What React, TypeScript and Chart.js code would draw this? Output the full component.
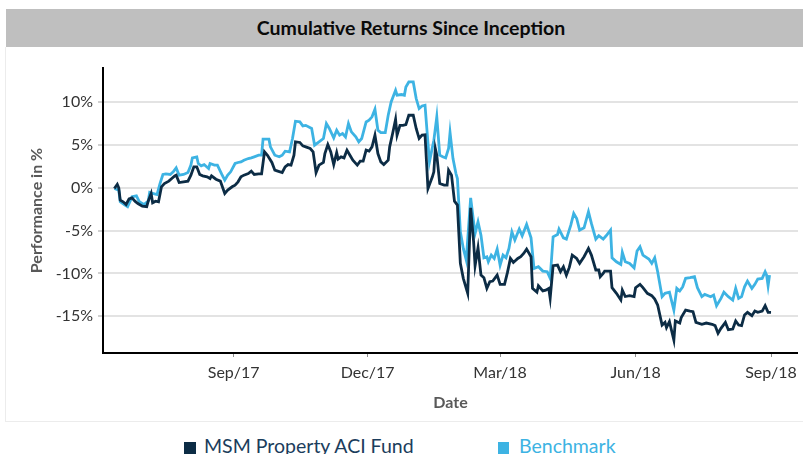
import { useEffect, useRef } from 'react';
import { Chart, registerables } from 'chart.js';

Chart.register(...registerables);

// Days counted from 1 Jun 2017
const xTickDays = [92, 183, 273, 365, 457];
const xTickLabels = ['Sep/17', 'Dec/17', 'Mar/18', 'Jun/18', 'Sep/18'];
const yTickValues = [-15, -10, -5, 0, 5, 10];

const fundDays = [
  11, 13, 14, 15, 17, 19, 21, 23, 25, 27, 30, 33, 34, 36, 37, 39, 41, 43, 45, 48,
  50, 52, 53, 55, 58, 61, 63, 65, 67, 69, 71, 74, 76, 77, 80, 83, 86, 88, 91, 93,
  95, 97, 99, 102, 104, 106, 109, 111, 113, 115, 118, 120, 122, 125, 127, 129, 131, 133, 134, 137,
  139, 141, 144, 146, 148, 150, 153, 154, 156, 158, 160, 162, 163, 165, 167, 169, 171, 173, 176, 178,
  180, 182, 184, 186, 188, 190, 192, 194, 197, 198, 200, 202, 203, 205, 207, 209, 211, 214, 216, 218,
  220, 222, 224, 227, 228, 229, 230, 232, 235, 237, 238, 240, 242, 244, 246, 248, 251, 253, 255, 256,
  258, 260, 262, 264, 266, 268, 271, 273, 276, 278, 280, 282, 285, 287, 289, 291, 294, 295, 298, 299,
  302, 304, 306, 307, 309, 312, 314, 316, 318, 320, 322, 325, 327, 330, 333, 335, 338, 340, 341, 343,
  344, 348, 349, 352, 355, 356, 358, 361, 364, 365, 368, 370, 373, 376, 378, 380, 383, 385, 386, 388,
  391, 392, 395, 396, 399, 402, 404, 406, 410, 413, 417, 419, 421, 423, 426, 428, 431, 433, 435, 437,
  439, 441, 444, 446, 448, 451, 453, 455, 457,
];
const fundReturns = [
  -0.08, 0.4, 0.0, -1.44, -1.63, -1.95, -1.3, -1.17, -1.56, -1.83, -2.14, -2.2, -1.56, -0.66, -1.75, -1.56, -1.63, 0.12, 0.5, 0.78,
  1.09, 1.4, 1.48, 0.62, 0.7, 0.78, 1.48, 2.45, 2.45, 1.56, 1.4, 1.28, 1.09, 1.4, 1.01, 0.78, -0.66, -0.27, 0.12, 0.31,
  0.7, 1.28, 1.48, 1.67, 1.95, 1.56, 1.63, 1.63, 4.2, 3.8, 2.96, 2.06, 1.95, 1.79, 2.45, 2.72, 2.65, 3.81, 5.37, 5.3,
  4.9, 4.79, 4.59, 4.2, 1.79, 2.65, 2.96, 4.0, 5.06, 4.2, 2.72, 4.12, 3.35, 3.62, 3.5, 4.4, 3.81, 3.23, 2.65, 3.11,
  3.11, 4.4, 4.28, 4.79, 6.15, 4.0, 3.03, 2.72, 3.23, 4.79, 6.34, 8.0, 6.15, 7.3, 7.3, 7.39, 8.48, 8.48, 6.93, 5.76,
  6.15, 6.2, -0.08, 1.28, 1.87, 4.59, 3.81, 0.5, 0.31, 0.31, 2.06, 1.48, -1.56, -2.02, -8.83, -10.58, -12.33, -2.33, -6.3, -9.1,
  -7.0, -10.2, -10.5, -11.75, -10.97, -10.9, -10.2, -11.28, -11.28, -9.88, -8.25, -8.72, -8.25, -8.05, -7.67, -7.16, -8.05, -11.75, -12.2, -11.44,
  -12.05, -11.95, -11.75, -12.9, -9.1, -9.03, -9.8, -9.22, -10.2, -9.3, -7.86, -8.25, -8.83, -8.05, -7.08, -7.86, -9.6, -9.6, -10.39, -10.0,
  -9.73, -9.73, -11.67, -12.33, -13.11, -11.95, -12.7, -12.6, -12.7, -11.67, -11.28, -11.67, -12.33, -12.6, -13.0, -13.7, -16.03, -15.72, -16.34, -15.64,
  -17.78, -15.56, -15.8, -15.17, -14.28, -14.4, -14.47, -15.72, -15.95, -15.8, -15.95, -16.1, -17.0, -16.42, -15.72, -16.58, -16.5, -15.56, -16.03, -16.1,
  -14.86, -14.55, -14.94, -14.4, -14.55, -14.4, -13.77, -14.55, -14.55,
];

const benchDays = [
  11, 14, 15, 18, 20, 23, 26, 28, 31, 34, 35, 37, 40, 42, 44, 46, 49, 51, 53, 55,
  58, 61, 63, 64, 67, 68, 70, 72, 75, 76, 79, 81, 84, 86, 88, 90, 93, 95, 97, 99,
  102, 104, 106, 109, 111, 112, 116, 117, 120, 123, 125, 127, 130, 132, 134, 137, 139, 141, 145, 147,
  150, 153, 155, 157, 160, 162, 164, 166, 168, 170, 172, 175, 177, 179, 182, 184, 186, 188, 190, 192,
  195, 197, 199, 202, 203, 206, 208, 209, 211, 214, 216, 218, 220, 222, 225, 228, 230, 232, 234, 236,
  238, 239, 241, 243, 244, 246, 248, 250, 253, 255, 256, 258, 260, 262, 264, 265, 267, 269, 271, 273,
  275, 277, 279, 281, 283, 286, 288, 291, 294, 296, 299, 302, 305, 307, 309, 312, 313, 316, 318, 321,
  323, 325, 327, 330, 333, 335, 338, 340, 343, 345, 348, 349, 352, 355, 356, 358, 361, 364, 366, 368,
  370, 374, 376, 378, 380, 383, 385, 388, 391, 393, 395, 397, 399, 402, 405, 407, 410, 412, 416, 418,
  420, 423, 425, 428, 431, 433, 435, 437, 439, 441, 444, 446, 448, 451, 453, 454, 455, 456,
];
const benchReturns = [
  -0.08, -0.27, -1.63, -2.0, -2.2, -1.05, -0.93, -1.63, -1.95, -1.56, -0.54, -0.66, -0.78, 0.5, 1.56, 1.63, 1.56, 1.87, 2.33, 1.48,
  1.56, 1.79, 2.65, 3.5, 3.62, 2.84, 2.57, 2.72, 2.26, 2.84, 2.65, 2.65, 1.56, 0.9, 1.48, 1.87, 2.84, 2.96, 3.03, 3.23,
  3.42, 3.5, 3.62, 3.81, 3.81, 5.68, 5.68, 4.79, 3.81, 3.62, 3.81, 4.28, 4.2, 5.76, 7.78, 7.7, 7.24, 7.3, 6.93, 4.98,
  5.37, 5.76, 7.51, 6.93, 5.84, 6.73, 6.15, 6.34, 5.95, 7.51, 6.54, 5.95, 5.37, 5.76, 7.7, 7.9, 8.29, 9.18, 6.73, 6.46,
  6.46, 8.48, 10.04, 11.4, 10.82, 10.9, 10.82, 11.79, 12.37, 12.37, 10.43, 9.26, 9.57, 9.65, 3.03, 5.56, 8.29, 3.81, 3.62, 3.5,
  4.59, 6.46, 3.42, 1.67, 1.09, -5.14, -7.08, -8.44, -1.17, -3.97, -5.33, -3.97, -5.53, -8.17, -8.05, -8.64, -7.86, -8.25, -7.16, -9.03,
  -7.86, -8.17, -7.08, -5.14, -6.1, -4.82, -5.6, -4.28, -5.84, -9.42, -9.22, -9.73, -9.8, -10.58, -5.72, -5.45, -4.82, -5.84, -5.99, -4.36,
  -3.0, -3.58, -4.94, -4.67, -2.8, -4.16, -5.99, -5.6, -6.0, -5.6, -4.94, -8.17, -8.64, -8.95, -7.55, -8.64, -8.83, -9.34, -7.39, -6.89,
  -7.86, -8.32, -8.83, -8.17, -9.8, -12.72, -12.33, -12.2, -14.28, -11.75, -12.05, -11.56, -10.58, -10.5, -10.39, -11.67, -12.72, -12.45, -12.72, -12.53,
  -13.77, -12.92, -12.2, -12.72, -13.11, -11.75, -12.92, -12.72, -11.56, -10.89, -11.75, -11.28, -10.66, -10.58, -9.8, -10.2, -11.44, -10.2,
];

const FUND_COLOR = '#0c2c45';
const BENCH_COLOR = '#3db3e3';
const FONT = 'Lato, "Open Sans", sans-serif';

export default function App() {
  const canvasRef = useRef<HTMLCanvasElement>(null);

  useEffect(() => {
    const canvas = canvasRef.current;
    if (!canvas) return;
    const chart = new Chart(canvas, {
      type: 'line',
      data: {
        datasets: [
          {
            label: 'MSM Property ACI Fund',
            data: fundDays.map((d, i) => ({ x: d, y: fundReturns[i] })),
            borderColor: FUND_COLOR,
            backgroundColor: FUND_COLOR,
            borderWidth: 2.8,
            pointRadius: 0,
            tension: 0,
            fill: false,
          },
          {
            label: 'Benchmark',
            data: benchDays.map((d, i) => ({ x: d, y: benchReturns[i] })),
            borderColor: BENCH_COLOR,
            backgroundColor: BENCH_COLOR,
            borderWidth: 2.8,
            pointRadius: 0,
            tension: 0,
            fill: false,
          },
        ],
      },
      options: {
        animation: false,
        responsive: false,
        maintainAspectRatio: false,
        layout: { padding: { left: 0, top: 21, right: 3, bottom: 0 } },
        plugins: { legend: { display: false }, tooltip: { enabled: false } },
        scales: {
          x: {
            type: 'linear',
            min: 3.3,
            max: 475.3,
            afterBuildTicks: (s: any) => {
              s.ticks = xTickDays.map((v) => ({ value: v }));
            },
            afterFit: (s: any) => {
              s.height = 68;
            },
            ticks: {
              autoSkip: false,
              maxRotation: 0,
              padding: 6,
              color: '#333333',
              font: { family: FONT, size: 16 },
              callback: (_v: any, i: number) => xTickLabels[i],
            },
            grid: { drawOnChartArea: false, drawTicks: true, tickLength: 4, color: '#8c8c8c', lineWidth: 1 },
            border: { display: true, color: '#000000', width: 2 },
            title: {
              display: true,
              text: 'Date',
              color: '#595959',
              font: { family: FONT, size: 16, weight: 'bold' },
              padding: { top: 0, bottom: 9 },
            },
          },
          y: {
            type: 'linear',
            min: -19.3,
            max: 14,
            afterBuildTicks: (s: any) => {
              s.ticks = yTickValues.map((v) => ({ value: v }));
            },
            afterFit: (s: any) => {
              s.width = 103;
            },
            ticks: {
              padding: 5,
              color: '#333333',
              font: { family: FONT, size: 16 },
              callback: (v: any) => `${v}%`,
            },
            grid: { color: '#e3e3e3', lineWidth: 2, drawTicks: true, tickLength: 5, tickColor: '#d0d0d0' },
            border: { display: true, color: '#000000', width: 2 },
            title: {
              display: true,
              text: 'Performance in %',
              color: '#595959',
              font: { family: FONT, size: 16, weight: 'bold' },
              padding: { top: 27, bottom: 0 },
            },
          },
        },
      },
    });
    return () => chart.destroy();
  }, []);

  return (
    <div style={{ position: 'fixed', left: 0, top: 0, width: 803, height: 454, overflow: 'hidden', background: '#ffffff', fontFamily: FONT }}>
      <div
        style={{
          position: 'absolute', left: 6, top: 9, width: 810, height: 38, background: '#bfbfbf',
          color: '#0a0a0a', fontWeight: 'bold', fontSize: 19.5, lineHeight: '38px', textAlign: 'center',
        }}
      >
        Cumulative Returns Since Inception
      </div>
      <div
        style={{
          position: 'absolute', left: 5, top: 47, width: 810, height: 374,
          borderLeft: '1px solid #ececec', borderBottom: '1px solid #ececec',
        }}
      />
      <canvas
        ref={canvasRef}
        width={803}
        height={374}
        style={{ position: 'absolute', left: 0, top: 47, width: 803, height: 374, display: 'block' }}
      />
      <div style={{ position: 'absolute', left: 184, top: 442, width: 12, height: 12, background: FUND_COLOR }} />
      <div style={{ position: 'absolute', left: 204, top: 434, fontSize: 19.5, color: '#1b3d5c', whiteSpace: 'nowrap' }}>
        MSM Property ACI Fund
      </div>
      <div style={{ position: 'absolute', left: 498, top: 442, width: 11, height: 12, background: BENCH_COLOR }} />
      <div style={{ position: 'absolute', left: 519, top: 434, fontSize: 19.5, color: BENCH_COLOR, whiteSpace: 'nowrap' }}>
        Benchmark
      </div>
    </div>
  );
}
